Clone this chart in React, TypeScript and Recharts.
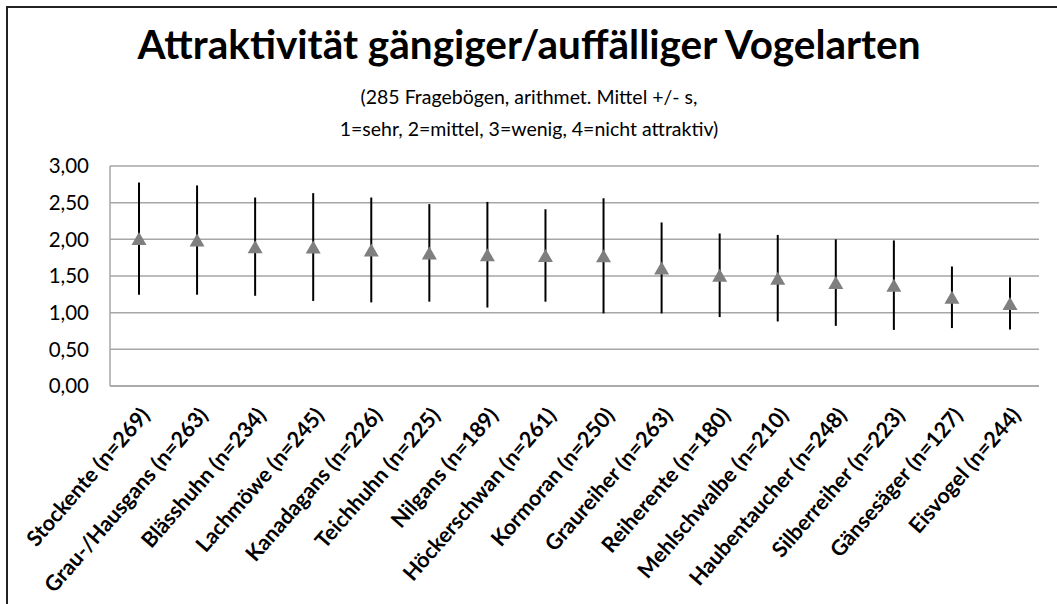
import { ComposedChart, Line, ErrorBar, XAxis, YAxis, CartesianGrid } from 'recharts';

const birds = [
  'Stockente (n=269)',
  'Grau-/Hausgans (n=263)',
  'Blässhuhn (n=234)',
  'Lachmöwe (n=245)',
  'Kanadagans (n=226)',
  'Teichhuhn (n=225)',
  'Nilgans (n=189)',
  'Höckerschwan (n=261)',
  'Kormoran (n=250)',
  'Graureiher (n=263)',
  'Reiherente (n=180)',
  'Mehlschwalbe (n=210)',
  'Haubentaucher (n=248)',
  'Silberreiher (n=223)',
  'Gänsesäger (n=127)',
  'Eisvogel (n=244)',
];

const means = [2.01, 1.99, 1.9, 1.895, 1.855, 1.815, 1.79, 1.78, 1.775, 1.61, 1.51, 1.47, 1.41, 1.375, 1.21, 1.125];
const sds = [0.765, 0.745, 0.67, 0.735, 0.715, 0.665, 0.72, 0.63, 0.785, 0.62, 0.57, 0.59, 0.59, 0.61, 0.42, 0.355];

const yTicks = [0, 0.5, 1, 1.5, 2, 2.5, 3];

const data = birds.map((name, i) => ({ name, mean: means[i], sd: sds[i] }));

const FONT = 'Lato, sans-serif';

function fmt(v: number) {
  return v.toFixed(2).replace('.', ',');
}

// grey triangle marker centred on the mean
function Triangle(props: any) {
  const { cx, cy } = props;
  if (cx == null || cy == null) return null;
  return <polygon points={`${cx - 7.5},${cy + 6.5} ${cx + 7.5},${cy + 6.5} ${cx},${cy - 6.5}`} fill="#7f7f7f" />;
}

function BirdTick(props: any) {
  const { x, y, payload } = props;
  const ax = x + 12;
  const ay = y + 22;
  return (
    <text
      x={ax}
      y={ay}
      transform={`rotate(-49, ${ax}, ${ay})`}
      textAnchor="end"
      fontFamily={FONT}
      fontWeight="bold"
      fontSize={21.5}
      fill="#000"
    >
      {payload.value}
    </text>
  );
}

export default function App() {
  return (
    <div style={{ position: 'absolute', left: 0, top: 0, width: 1057, height: 604, overflow: 'hidden', background: '#fff' }}>
      <div style={{ position: 'absolute', left: 6, top: 6, width: 1100, height: 700, border: '2px solid #222' }} />
      <div
        style={{
          position: 'absolute',
          left: 0,
          width: 1058,
          top: 20,
          textAlign: 'center',
          fontFamily: FONT,
          fontWeight: 'bold',
          fontSize: 40.5,
          lineHeight: '48px',
          color: '#000',
        }}
      >
        Attraktivität gängiger/auffälliger Vogelarten
      </div>
      <div
        style={{
          position: 'absolute',
          left: 0,
          width: 1058,
          top: 81,
          textAlign: 'center',
          fontFamily: FONT,
          fontSize: 19.5,
          lineHeight: '32px',
          color: '#000',
        }}
      >
        (285 Fragebögen, arithmet. Mittel +/- s,
        <br />
        1=sehr, 2=mittel, 3=wenig, 4=nicht attraktiv)
      </div>
      <ComposedChart
        width={1057}
        height={604}
        data={data}
        margin={{ top: 166, right: 18, bottom: 18, left: 10 }}
        style={{ position: 'absolute', left: 0, top: 0 }}
      >
        <CartesianGrid vertical={false} stroke="#a6a6a6" strokeWidth={1.5} />
        <XAxis
          dataKey="name"
          interval={0}
          height={200}
          padding={{ left: 29, right: 29 }}
          tick={<BirdTick />}
          tickLine={false}
          axisLine={{ stroke: '#a6a6a6', strokeWidth: 1.5 }}
        />
        <YAxis
          domain={[0, 3]}
          ticks={yTicks}
          width={100}
          tickFormatter={fmt}
          tickLine={false}
          tickMargin={15}
          axisLine={{ stroke: '#a6a6a6', strokeWidth: 1.5 }}
          tick={{ fontFamily: FONT, fontSize: 20.5, fill: '#000' }}
        />
        <Line
          dataKey="mean"
          stroke="none"
          dot={<Triangle />}
          activeDot={false}
          isAnimationActive={false}
        >
          <ErrorBar dataKey="sd" width={0} stroke="#000" strokeWidth={2} direction="y" />
        </Line>
      </ComposedChart>
    </div>
  );
}
